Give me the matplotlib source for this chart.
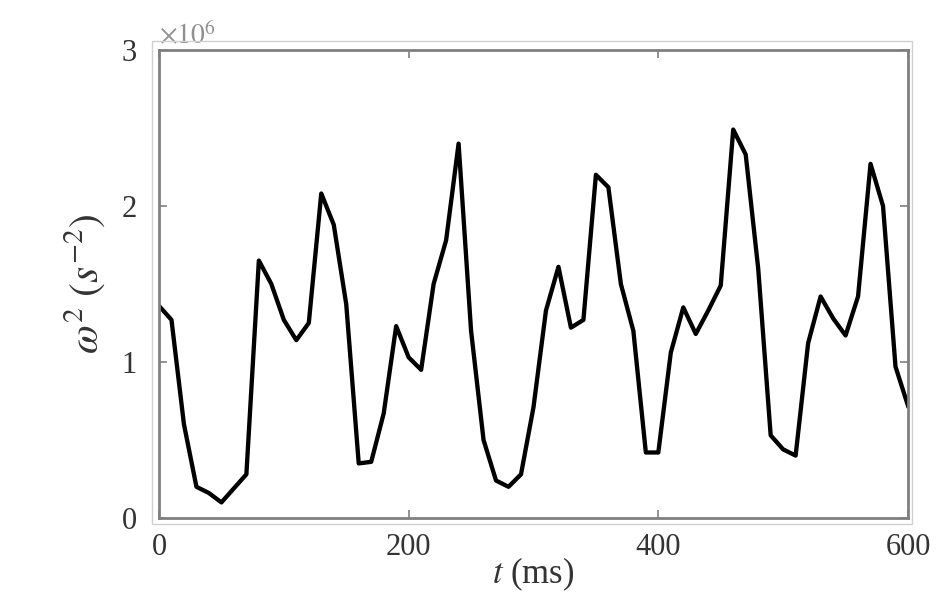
import matplotlib
matplotlib.use("Agg")
import matplotlib.pyplot as plt
from matplotlib.patches import Rectangle

plt.rcParams['font.family'] = ['Liberation Serif', 'DejaVu Serif']
plt.rcParams['mathtext.fontset'] = 'stix'

# time (ms) and omega^2 (in units of 1e6 s^-2)
t_ms = list(range(0, 601, 10))
omega2 = [1.36, 1.27, 0.60, 0.20, 0.16, 0.10, 0.19, 0.28, 1.65, 1.50,
          1.27, 1.14, 1.25, 2.08, 1.88, 1.37, 0.35, 0.36, 0.67, 1.23,
          1.03, 0.95, 1.50, 1.78, 2.40, 1.20, 0.50, 0.24, 0.20, 0.28,
          0.71, 1.33, 1.61, 1.22, 1.27, 2.20, 2.12, 1.50, 1.20, 0.42,
          0.42, 1.06, 1.35, 1.18, 1.33, 1.49, 2.49, 2.33, 1.60, 0.53,
          0.44, 0.40, 1.12, 1.42, 1.28, 1.17, 1.42, 2.27, 2.00, 0.97,
          0.72]
xticks = [0, 200, 400, 600]
yticks = [0, 1, 2, 3]

fig = plt.figure(figsize=(9.38, 5.95), dpi=100)
ax = fig.add_axes([0.1695, 0.1294, 0.7985, 0.7866])

ax.plot(t_ms, [v * 1e6 for v in omega2], color='black', lw=3.1)

ax.set_xlim(0, 600)
ax.set_ylim(0, 3e6)
ax.set_xticks(xticks)
ax.set_xticklabels([str(v) for v in xticks])
ax.set_yticks([v * 1e6 for v in yticks])
ax.set_yticklabels([str(v) for v in yticks])

gray = '#808080'
for s in ax.spines.values():
    s.set_color(gray)
    s.set_linewidth(2.0)
ax.tick_params(direction='in', length=6, width=1.2, color=gray,
               top=True, right=True, labelsize=22, labelcolor='#333333')
ax.tick_params(axis='x', pad=11)
ax.tick_params(axis='y', pad=16)

ax.text(0.0, 1.0, r'$\times10^{6}$', transform=ax.transAxes,
        fontsize=20, color='#909090', ha='left', va='bottom')

ax.set_xlabel(r'$t$ (ms)', fontsize=25, color='#333333', labelpad=-5)
ax.set_ylabel(r'$\omega^2\ (s^{-2})$', fontsize=30, color='#333333', labelpad=10)

# faint outer frame around the axes box
fig.patches.append(Rectangle((152 / 938, 1 - 524 / 595), (912 - 152) / 938,
                             (524 - 41) / 595, transform=fig.transFigure,
                             fill=False, edgecolor='#d0d0d0', lw=1.0))

fig.savefig('out.png', dpi=100)
